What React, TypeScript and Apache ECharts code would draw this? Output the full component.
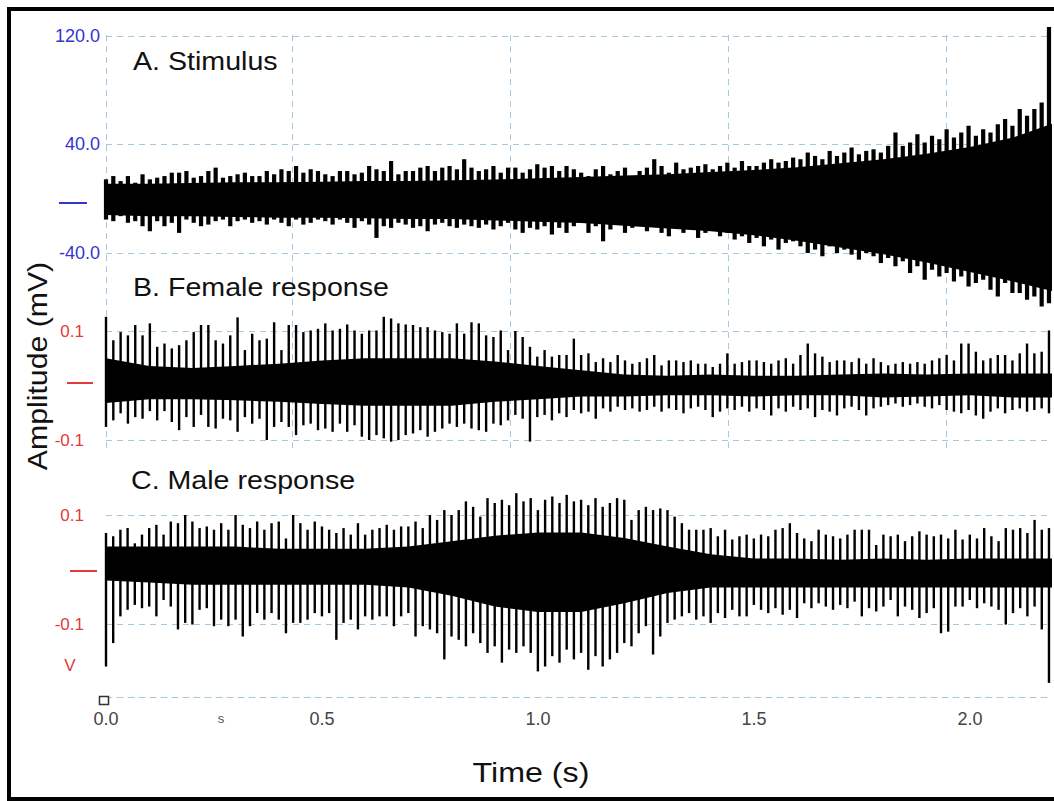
import React, { useEffect, useRef } from "react";
import * as echarts from "echarts";

// ---------- axis ranges ----------
const X_MAX = 2.19;
const T_END = 2.183;
const GRID_COLOR = "#a6c8df";
const BLUE = "#3434cf";
const RED = "#e23b3b";

// vertical (time) gridline positions, s
const vGridTimes = [0, 0.43, 0.935, 1.44, 1.944];
// horizontal gridline values per panel
const hGridStim = [120, 40, -40];
const hGridResp = [0.1, -0.1];

// ---------- coarse envelope times (s) ----------
const coreTimes = [0, 0.1, 0.2, 0.3, 0.4, 0.5, 0.6, 0.7, 0.8, 0.9, 1.0, 1.1, 1.2, 1.3, 1.4, 1.5, 1.6, 1.7, 1.8, 1.9, 2.0, 2.1, 2.19];

// ---------- A. Stimulus (mV) ----------
const stimHi = [
  14.2, 16.6, 12.9, 16.6, 11.7, 17.9, 14.2, 15.4, 16.6, 19.1,
  19.1, 20.3, 15.4, 16.6, 20.3, 22.8, 15.4, 16.6, 17.9, 19.1,
  16.6, 16.6, 20.3, 17.9, 21.6, 20.3, 24.0, 19.1, 21.6, 20.3,
  17.9, 16.6, 20.3, 20.3, 17.9, 19.1, 24.0, 21.6, 20.3, 27.7,
  17.9, 20.3, 20.3, 22.8, 24.0, 20.3, 22.8, 24.0, 21.6, 29.0,
  22.8, 20.3, 21.6, 24.0, 19.1, 22.8, 22.8, 19.1, 21.6, 25.3,
  22.8, 24.0, 20.3, 24.0, 21.6,
  19.1, 16.6, 21.6, 24.0, 17.9, 20.3, 22.8, 16.6, 20.3, 22.8,
  29.0, 24.0, 19.1, 26.5, 21.6, 22.8, 24.0, 25.3, 21.6, 24.0,
  26.5, 22.8, 27.7, 24.0, 24.0, 26.5, 29.0, 26.5, 27.7, 30.2,
  29.0, 33.9, 31.4, 29.0, 35.1, 31.4, 33.9, 37.6, 32.6, 35.1,
  36.3, 33.9, 38.8, 48.7, 38.8, 41.3, 47.4, 41.3, 46.2, 43.7,
  51.1, 45.0, 48.7, 53.6, 46.2, 51.1, 48.7, 54.8, 58.5, 53.6,
  65.9, 61.0, 65.9, 70.8, 126.2,
];
const stimLo = [
  -15.4, -16.6, -12.9, -17.8, -16.6, -20.3, -24.0, -16.6, -20.3, -17.8,
  -25.2, -15.4, -17.8, -20.3, -19.1, -16.6, -15.4, -20.3, -16.6, -15.4,
  -17.8, -16.6, -19.1, -15.4, -17.8, -20.3, -15.4, -19.1, -17.8, -15.4,
  -16.6, -19.1, -15.4, -17.8, -21.5, -16.6, -19.1, -28.9, -20.3, -21.5,
  -17.8, -19.1, -21.5, -20.3, -24.0, -19.1, -17.8, -20.3, -21.5, -19.1,
  -20.3, -21.5, -19.1, -22.7, -20.3, -17.8, -22.7, -25.2, -21.5, -22.7,
  -20.3, -26.4, -21.5, -25.2, -20.3,
  -17.8, -25.2, -20.3, -31.4, -22.7, -19.1, -25.2, -21.5, -17.8, -24.0,
  -20.3, -25.2, -27.7, -21.5, -25.2, -22.7, -28.9, -25.2, -22.7, -27.7,
  -25.2, -30.1, -27.7, -32.6, -28.9, -35.1, -30.1, -37.5, -32.6, -31.4,
  -35.1, -40.0, -37.5, -42.4, -35.1, -40.0, -37.5, -41.2, -44.9, -40.0,
  -42.4, -47.4, -43.7, -49.8, -46.1, -54.7, -49.8, -59.7, -52.3, -57.2,
  -54.7, -60.9, -57.2, -64.6, -62.1, -59.7, -67.0, -72.0, -62.1, -69.5,
  -69.5, -74.4, -72.0, -79.4, -76.9,
];
const stimCoreHi = [11, 11, 11.5, 12, 12, 12.5, 13, 13, 13.5, 14, 15, 16, 17, 18, 19.5, 21, 23, 26, 29, 33, 38, 45, 55];
const stimCoreLo = [-12, -13, -13, -13.5, -14, -14, -14.5, -15, -15, -16, -17, -18, -20, -22, -24, -27, -31, -36, -41, -47, -54, -61, -68];

// ---------- B. Female response (mV) ----------
const femHi = [
  0.126, 0.083, 0.098, 0.092, 0.111, 0.092, 0.114, 0.071, 0.077, 0.068,
  0.074, 0.083, 0.098, 0.111, 0.111, 0.083, 0.077, 0.092, 0.125, 0.065,
  0.095, 0.083, 0.086, 0.116, 0.065, 0.111, 0.111, 0.098, 0.101, 0.104,
  0.114, 0.101, 0.104, 0.112, 0.101, 0.095, 0.101, 0.101, 0.126, 0.123,
  0.114, 0.112, 0.111, 0.107, 0.107, 0.101, 0.098, 0.095, 0.114, 0.095,
  0.116, 0.114, 0.092, 0.089, 0.101, 0.065, 0.1, 0.089, 0.071, 0.053,
  0.065, 0.053, 0.056, 0.056,
  0.086, 0.056, 0.059, 0.043, 0.05, 0.043, 0.056, 0.046, 0.04, 0.043,
  0.05, 0.056, 0.037, 0.046, 0.046, 0.043, 0.046, 0.04, 0.04, 0.034,
  0.04, 0.059, 0.04, 0.043, 0.046, 0.046, 0.043, 0.04, 0.046, 0.05,
  0.04, 0.056, 0.077, 0.059, 0.053, 0.043, 0.046, 0.046, 0.043, 0.05,
  0.04, 0.05, 0.043, 0.037, 0.04, 0.043, 0.04, 0.043, 0.04, 0.046,
  0.05, 0.056, 0.046, 0.077, 0.077, 0.062, 0.046, 0.05, 0.056, 0.056,
  0.046, 0.059, 0.077, 0.059, 0.062, 0.101,
];
const femLo = [
  -0.076, -0.064, -0.051, -0.07, -0.058, -0.061, -0.047, -0.064, -0.047, -0.067,
  -0.082, -0.058, -0.076, -0.054, -0.076, -0.079, -0.061, -0.064, -0.085, -0.058,
  -0.07, -0.061, -0.1, -0.076, -0.067, -0.076, -0.091, -0.073, -0.07, -0.082,
  -0.079, -0.085, -0.07, -0.085, -0.073, -0.094, -0.1, -0.091, -0.097, -0.103,
  -0.1, -0.091, -0.088, -0.082, -0.094, -0.085, -0.079, -0.07, -0.076, -0.07,
  -0.079, -0.082, -0.085, -0.07, -0.073, -0.064, -0.054, -0.061, -0.103, -0.058,
  -0.054, -0.064, -0.051, -0.058,
  -0.045, -0.051, -0.048, -0.061, -0.042, -0.048, -0.039, -0.045, -0.042, -0.048,
  -0.045, -0.039, -0.048, -0.042, -0.045, -0.051, -0.042, -0.039, -0.045, -0.058,
  -0.048, -0.042, -0.045, -0.039, -0.048, -0.042, -0.045, -0.055, -0.042, -0.048,
  -0.039, -0.045, -0.042, -0.058, -0.045, -0.048, -0.055, -0.042, -0.039, -0.045,
  -0.055, -0.042, -0.039, -0.036, -0.033, -0.039, -0.036, -0.033, -0.039, -0.042,
  -0.036, -0.045, -0.048, -0.051, -0.045, -0.055, -0.061, -0.048, -0.042, -0.051,
  -0.045, -0.042, -0.048, -0.045, -0.042, -0.051,
];
const femCoreHi = [0.05, 0.036, 0.032, 0.036, 0.04, 0.046, 0.05, 0.05, 0.05, 0.044, 0.036, 0.028, 0.02, 0.018, 0.02, 0.018, 0.018, 0.02, 0.022, 0.02, 0.022, 0.022, 0.022];
const femCoreLo = [-0.032, -0.025, -0.025, -0.027, -0.03, -0.034, -0.037, -0.037, -0.037, -0.03, -0.025, -0.02, -0.02, -0.018, -0.018, -0.02, -0.018, -0.018, -0.022, -0.02, -0.018, -0.022, -0.022];

// ---------- C. Male response (mV) ----------
const maleHi = [
  0.067, 0.061, 0.073, 0.076, 0.048, 0.064, 0.076, 0.082, 0.064, 0.088,
  0.085, 0.1, 0.088, 0.076, 0.079, 0.073, 0.085, 0.073, 0.1, 0.082,
  0.076, 0.088, 0.073, 0.085, 0.088, 0.057, 0.1, 0.085, 0.073, 0.088,
  0.079, 0.073, 0.067, 0.076, 0.064, 0.085, 0.064, 0.073, 0.076, 0.082,
  0.073, 0.079, 0.079, 0.088, 0.076, 0.1, 0.091, 0.109, 0.1, 0.109,
  0.125, 0.115, 0.097, 0.131, 0.122, 0.128, 0.118, 0.14, 0.125, 0.131,
  0.109, 0.128, 0.134, 0.122, 0.137,
  0.125, 0.128, 0.118, 0.131, 0.115, 0.122, 0.131, 0.128, 0.091, 0.109,
  0.115, 0.109, 0.112, 0.109, 0.097, 0.085, 0.073, 0.073,
  0.073, 0.076, 0.061, 0.073, 0.055, 0.061, 0.064, 0.057, 0.064, 0.061,
  0.073, 0.076, 0.085, 0.067, 0.057, 0.052, 0.073, 0.064, 0.061, 0.057,
  0.064, 0.073, 0.073, 0.073, 0.045, 0.064, 0.061, 0.064, 0.052, 0.061,
  0.07, 0.064, 0.061, 0.064, 0.057, 0.073, 0.055, 0.064, 0.057, 0.076,
  0.061, 0.052, 0.076, 0.073, 0.076, 0.067, 0.091, 0.073, 0.076,
];
const maleLo = [
  -0.178, -0.135, -0.086, -0.074, -0.065, -0.071, -0.068, -0.086, -0.056, -0.068,
  -0.11, -0.098, -0.101, -0.074, -0.071, -0.104, -0.092, -0.104, -0.092, -0.123,
  -0.104, -0.08, -0.092, -0.08, -0.092, -0.117, -0.098, -0.098, -0.092, -0.08,
  -0.086, -0.08, -0.129, -0.098, -0.092, -0.11, -0.086, -0.092, -0.086, -0.086,
  -0.104, -0.086, -0.08, -0.123, -0.104, -0.11, -0.117, -0.165, -0.123, -0.129,
  -0.141, -0.117, -0.135, -0.153, -0.141, -0.171, -0.147, -0.153, -0.141, -0.153,
  -0.187, -0.178, -0.159, -0.171, -0.147,
  -0.165, -0.153, -0.184, -0.159, -0.178, -0.165, -0.153, -0.135, -0.141, -0.117,
  -0.104, -0.156, -0.123, -0.098, -0.092, -0.086, -0.08, -0.092,
  -0.086, -0.098, -0.08, -0.089, -0.074, -0.086, -0.086, -0.065, -0.074, -0.08,
  -0.071, -0.083, -0.074, -0.089, -0.062, -0.071, -0.062, -0.068, -0.074, -0.065,
  -0.071, -0.059, -0.086, -0.071, -0.077, -0.068, -0.056, -0.086, -0.068, -0.074,
  -0.089, -0.08, -0.071, -0.117, -0.114, -0.068, -0.068, -0.056, -0.071, -0.062,
  -0.068, -0.074, -0.101, -0.08, -0.071, -0.086, -0.068, -0.11, -0.208,
];
const maleCoreHi = [0.042, 0.042, 0.042, 0.042, 0.038, 0.038, 0.038, 0.042, 0.052, 0.062, 0.068, 0.068, 0.058, 0.042, 0.028, 0.02, 0.02, 0.018, 0.02, 0.018, 0.02, 0.02, 0.02];
const maleCoreLo = [-0.02, -0.024, -0.028, -0.028, -0.028, -0.028, -0.028, -0.033, -0.048, -0.068, -0.078, -0.078, -0.062, -0.043, -0.033, -0.033, -0.033, -0.033, -0.033, -0.033, -0.033, -0.033, -0.033];

// sample times: samples are evenly spaced over the record
const sampleTimes = (n: number) => Array.from({ length: n }, (_, i) => (i * T_END) / (n - 1));

const FONT = "Liberation Sans, Arial, sans-serif";

function spikeSeries(idx: number, lo: number[], hi: number[], w: number) {
  const times = sampleTimes(hi.length);
  return {
    type: "custom",
    xAxisIndex: idx,
    yAxisIndex: idx,
    clip: false,
    silent: true,
    z: 5,
    data: times.map((t, i) => [t, lo[i], hi[i]]),
    renderItem: (_p: any, api: any) => {
      const a = api.coord([api.value(0), api.value(2)]);
      const b = api.coord([api.value(0), api.value(1)]);
      return {
        type: "rect",
        shape: { x: a[0] - w / 2, y: a[1], width: w, height: b[1] - a[1] },
        style: { fill: "#000" },
      };
    },
  };
}

function bandSeries(idx: number, lo: number[], hi: number[]) {
  return {
    type: "custom",
    xAxisIndex: idx,
    yAxisIndex: idx,
    clip: false,
    silent: true,
    z: 4,
    data: coreTimes.map((t, i) => [t, lo[i], hi[i]]),
    renderItem: (p: any, api: any) => {
      if (p.dataIndex !== 0) return null;
      const pts: number[][] = [];
      coreTimes.forEach((t, i) => pts.push(api.coord([t, hi[i]])));
      for (let i = coreTimes.length - 1; i >= 0; i--) pts.push(api.coord([coreTimes[i], lo[i]]));
      return { type: "polygon", shape: { points: pts }, style: { fill: "#000" } };
    },
  };
}

function hGridSeries(idx: number, vals: number[]) {
  return {
    type: "custom",
    xAxisIndex: idx,
    yAxisIndex: idx,
    silent: true,
    z: 1,
    data: vals.map((v) => [0, v]),
    renderItem: (p: any, api: any) => {
      const cs = p.coordSys;
      const y = Math.round(api.coord([0, api.value(1)])[1]) + 0.5;
      return {
        type: "line",
        shape: { x1: cs.x, y1: y, x2: cs.x + cs.width, y2: y },
        style: { stroke: GRID_COLOR, lineWidth: 1, lineDash: [6, 5] },
      };
    },
  };
}

export default function App() {
  const ref = useRef<HTMLDivElement>(null);
  useEffect(() => {
    const chart = echarts.init(ref.current!, null, { renderer: "svg" });
    const gridPos = { left: 106, width: 946 };
    const xBase = { type: "value", min: 0, max: X_MAX, show: false };
    const option: any = {
      animation: false,
      backgroundColor: "#fff",
      textStyle: { fontFamily: FONT },
      grid: [
        { ...gridPos, top: 35.5, height: 217.5 },
        { ...gridPos, top: 331, height: 109 },
        { ...gridPos, top: 515, height: 109 },
        { ...gridPos, top: 35, height: 662 },
        { ...gridPos, top: 35, height: 415 },
      ],
      xAxis: [
        { ...xBase, gridIndex: 0 },
        { ...xBase, gridIndex: 1 },
        { ...xBase, gridIndex: 2 },
        {
          type: "value",
          gridIndex: 3,
          min: 0,
          max: X_MAX,
          interval: 0.5,
          axisLine: { show: true, lineStyle: { color: GRID_COLOR, type: [6, 5], width: 1 } },
          axisTick: { show: false },
          splitLine: { show: false },
          axisLabel: {
            showMaxLabel: false,
            margin: 13,
            fontSize: 18,
            color: "#444",
            fontFamily: FONT,
            formatter: (v: number) => v.toFixed(1),
          },
        },
        { ...xBase, gridIndex: 4 },
      ],
      yAxis: [
        {
          type: "value",
          gridIndex: 0,
          min: -40,
          max: 120,
          interval: 40,
          axisLine: { show: false },
          axisTick: { show: false },
          splitLine: { show: false },
          axisLabel: {
            margin: 6,
            fontSize: 18,
            color: BLUE,
            fontFamily: FONT,
            padding: [8, 0, 0, 0],
            formatter: (v: number) => (v === 0 || v === 80 ? "" : v.toFixed(1)),
          },
        },
        ...[1, 2].map((gi) => ({
          type: "value",
          gridIndex: gi,
          min: -0.1,
          max: 0.1,
          interval: 0.1,
          axisLine: { show: false },
          axisTick: { show: false },
          splitLine: { show: false },
          axisLabel: {
            margin: 22,
            fontSize: 17,
            color: RED,
            fontFamily: FONT,
            formatter: (v: number) => (Math.abs(v) < 1e-9 ? "" : String(Math.round(v * 10) / 10)),
          },
        })),
        { type: "value", gridIndex: 3, min: 0, max: 1, show: false },
        { type: "value", gridIndex: 4, min: 0, max: 1, show: false },
      ],
      series: [
        {
          type: "custom",
          xAxisIndex: 4,
          yAxisIndex: 4,
          silent: true,
          z: 1,
          data: vGridTimes.map((t) => [t, 0]),
          renderItem: (p: any, api: any) => {
            const cs = p.coordSys;
            const x = Math.round(api.coord([api.value(0), 0])[0]) + 0.5;
            return {
              type: "line",
              shape: { x1: x, y1: cs.y, x2: x, y2: cs.y + cs.height },
              style: { stroke: GRID_COLOR, lineWidth: 1, lineDash: [6, 5] },
            };
          },
        },
        hGridSeries(0, hGridStim),
        hGridSeries(1, hGridResp),
        hGridSeries(2, hGridResp),
        bandSeries(0, stimCoreLo, stimCoreHi),
        bandSeries(1, femCoreLo, femCoreHi),
        bandSeries(2, maleCoreLo, maleCoreHi),
        spikeSeries(0, stimLo, stimHi, 4.2),
        spikeSeries(1, femLo, femHi, 2.4),
        spikeSeries(2, maleLo, maleHi, 2.4),
      ],
      graphic: [
        { type: "text", x: 133, y: 61, scaleX: 1.1, z: 100, style: { text: "A. Stimulus", fontSize: 26, fontFamily: FONT, fill: "#111", verticalAlign: "middle" } },
        { type: "text", x: 133, y: 287, scaleX: 1.1, z: 100, style: { text: "B. Female response", fontSize: 26, fontFamily: FONT, fill: "#111", verticalAlign: "middle" } },
        { type: "text", x: 131, y: 480, scaleX: 1.1, z: 100, style: { text: "C. Male response", fontSize: 26, fontFamily: FONT, fill: "#111", verticalAlign: "middle" } },
        { type: "text", x: 37, y: 366, rotation: Math.PI / 2, scaleX: 1.08, z: 100, style: { text: "Amplitude (mV)", fontSize: 28, fontFamily: FONT, fill: "#111", align: "center", verticalAlign: "middle" } },
        { type: "text", x: 531, y: 772, scaleX: 1.15, z: 100, style: { text: "Time (s)", fontSize: 28, fontFamily: FONT, fill: "#111", align: "center", verticalAlign: "middle" } },
        { type: "line", z: 100, shape: { x1: 59, y1: 203, x2: 87, y2: 203 }, style: { stroke: BLUE, lineWidth: 2 } },
        { type: "line", z: 100, shape: { x1: 67, y1: 383, x2: 93, y2: 383 }, style: { stroke: RED, lineWidth: 2 } },
        { type: "line", z: 100, shape: { x1: 70, y1: 571, x2: 97, y2: 571 }, style: { stroke: RED, lineWidth: 2 } },
        { type: "text", x: 70, y: 665, z: 100, style: { text: "V", fontSize: 17, fontFamily: FONT, fill: RED, align: "center", verticalAlign: "middle" } },
        { type: "text", x: 221, y: 718, z: 100, style: { text: "s", fontSize: 13, fontFamily: FONT, fill: "#555", align: "center", verticalAlign: "middle" } },
        { type: "rect", z: 100, shape: { x: 99.5, y: 696.5, width: 9, height: 8 }, style: { fill: "#fff", stroke: "#333", lineWidth: 1.5 } },
        { type: "rect", z: 100, shape: { x: 9, y: 9, width: 1060, height: 790 }, style: { fill: "none", stroke: "#000", lineWidth: 4 } },
      ],
    };
    chart.setOption(option);
    return () => chart.dispose();
  }, []);
  return (
    <div
      ref={ref}
      style={{ position: "fixed", left: 0, top: 0, width: 1054, height: 801, background: "#fff" }}
    />
  );
}
